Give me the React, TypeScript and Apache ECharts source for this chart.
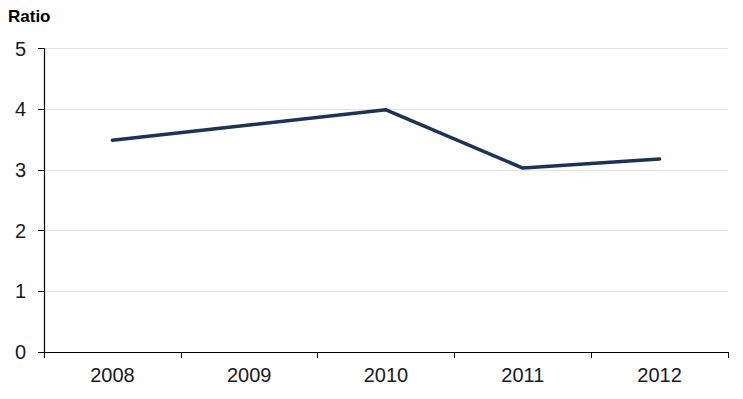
import React, { useEffect, useRef } from "react";
import * as echarts from "echarts";

const categories = ["2008", "2009", "2010", "2011", "2012"];
const ratioValues = [3.49, 3.74, 3.99, 3.03, 3.18];
const yTicks = [0, 1, 2, 3, 4, 5];

export default function App() {
  const ref = useRef<HTMLDivElement>(null);
  useEffect(() => {
    if (!ref.current) return;
    const chart = echarts.init(ref.current, null, { renderer: "svg" });
    chart.setOption({
      animation: false,
      backgroundColor: "#ffffff",
      textStyle: { fontFamily: "Liberation Sans, Arial, sans-serif" },
      graphic: [
        {
          type: "text",
          left: 8,
          top: 8,
          style: {
            text: "Ratio",
            font: "bold 17px Liberation Sans, Arial, sans-serif",
            fill: "#000",
          },
        },
      ],
      grid: { left: 44, right: 15, top: 48.5, bottom: 47, containLabel: false },
      xAxis: {
        type: "category",
        data: categories,
        boundaryGap: true,
        axisLine: { lineStyle: { color: "#000", width: 1.2 } },
        axisTick: { show: true, length: 6, inside: false, lineStyle: { color: "#000" } },
        axisLabel: { color: "#1a1a1a", fontSize: 20, margin: 13 },
        splitLine: { show: false },
      },
      yAxis: {
        type: "value",
        min: yTicks[0],
        max: yTicks[yTicks.length - 1],
        interval: 1,
        axisLine: { show: true, lineStyle: { color: "#000", width: 1.2 } },
        axisTick: { show: true, length: 6, lineStyle: { color: "#000" } },
        axisLabel: { color: "#1a1a1a", fontSize: 20, margin: 18 },
        splitLine: { show: true, lineStyle: { color: "#e3e3e3", width: 1 } },
      },
      series: [
        {
          type: "line",
          data: ratioValues,
          symbol: "none",
          lineStyle: { color: "#1c3358", width: 3.5, cap: "round", join: "round" },
        },
      ],
    });
    return () => chart.dispose();
  }, []);
  return (
    <div
      ref={ref}
      style={{ position: "absolute", left: 0, top: 0, width: 743, height: 399 }}
    />
  );
}
